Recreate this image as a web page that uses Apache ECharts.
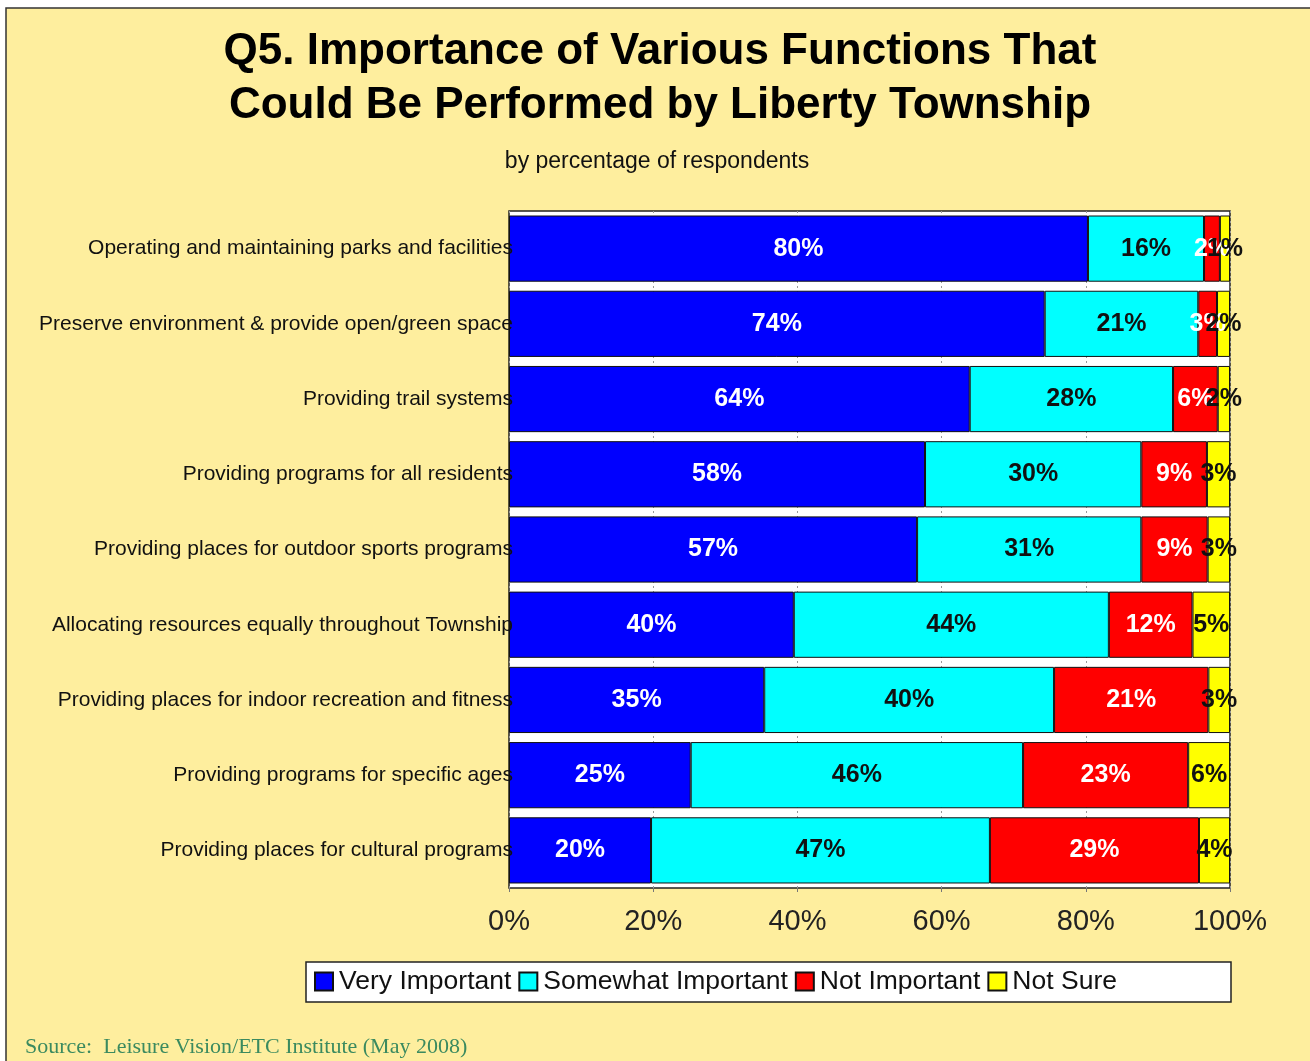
<!DOCTYPE html>
<html>
<head>
<meta charset="utf-8">
<script src="https://cdn.jsdelivr.net/npm/echarts@6/dist/echarts.min.js"></script>
<style>
html,body{margin:0;padding:0;background:#fff;}
#chart{width:1310px;height:1061px;}
</style>
</head>
<body>
<div id="chart"></div>
<script>
const categories = [
  'Operating and maintaining parks and facilities',
  'Preserve environment & provide open/green space',
  'Providing trail systems',
  'Providing programs for all residents',
  'Providing places for outdoor sports programs',
  'Allocating resources equally throughout Township',
  'Providing places for indoor recreation and fitness',
  'Providing programs for specific ages',
  'Providing places for cultural programs'
];
const veryImportant     = [80.3, 74.3, 63.9, 57.7, 56.6, 39.5, 35.4, 25.2, 19.7];
const somewhatImportant = [16.1, 21.3, 28.2, 30.0, 31.1, 43.7, 40.2, 46.1, 47.0];
const notImportant      = [2.2, 2.6, 6.2, 9.1, 9.2, 11.6, 21.4, 22.9, 29.0];
const notSure           = [1.4, 1.8, 1.7, 3.2, 3.1, 5.2, 3.0, 5.8, 4.3];
const seriesNames = ['Very Important', 'Somewhat Important', 'Not Important', 'Not Sure'];
const xTicks = [0, 20, 40, 60, 80, 100];

const FONT = 'Liberation Sans, Arial, sans-serif';
const colors = ['#0000FF', '#00FFFF', '#FF0000', '#FFFF00'];
const labelColors = ['#ffffff', '#111111', '#ffffff', '#111111'];
const dataSets = [veryImportant, somewhatImportant, notImportant, notSure];

const chart = echarts.init(document.getElementById('chart'), null, {renderer: 'canvas'});

const series = seriesNames.map((name, i) => ({
  name: name,
  type: 'bar',
  stack: 'total',
  barCategoryGap: '12%',
  data: dataSets[i],
  itemStyle: {color: colors[i], borderColor: '#111', borderWidth: 1},
  label: {
    show: true,
    position: 'inside',
    formatter: p => Math.round(p.value) + '%',
    color: labelColors[i],
    fontFamily: FONT,
    fontWeight: 'bold',
    fontSize: 25,
    textBorderWidth: 0
  },
  emphasis: {disabled: true}
}));

const option = {
  backgroundColor: '#ffffff',
  animation: false,
  graphic: [
    {type: 'rect', z: -100, shape: {x: 6, y: 8, width: 1310, height: 1060},
     style: {fill: '#FEEE9E', stroke: '#333', lineWidth: 1.5}},
    {type: 'rect', z: -50, shape: {x: 306, y: 962, width: 925, height: 40},
     style: {fill: '#ffffff', stroke: '#222', lineWidth: 1.5}},
    {type: 'text', z: 10, style: {text: 'Q5. Importance of Various Functions That', x: 660, y: 52,
      align: 'center', verticalAlign: 'middle', font: 'bold 44px ' + FONT, fill: '#000'}},
    {type: 'text', z: 10, style: {text: 'Could Be Performed by Liberty Township', x: 660, y: 106,
      align: 'center', verticalAlign: 'middle', font: 'bold 44px ' + FONT, fill: '#000'}},
    {type: 'text', z: 10, style: {text: 'by percentage of respondents', x: 657, y: 162,
      align: 'center', verticalAlign: 'middle', font: '23px ' + FONT, fill: '#111'}},
    {type: 'text', z: 10, style: {text: 'Source:  Leisure Vision/ETC Institute (May 2008)', x: 25, y: 1047,
      align: 'left', verticalAlign: 'middle', font: '22px Liberation Serif, Times New Roman, serif', fill: '#3b8a5f'}}
  ],
  legend: {
    data: seriesNames,
    left: 314,
    top: 968,
    padding: 0,
    itemGap: 7,
    itemWidth: 18,
    itemHeight: 18,
    icon: 'rect',
    selectedMode: false,
    textStyle: {fontFamily: FONT, fontSize: 26.5, color: '#111', padding: [0, 0, 0, 1]}
  },
  grid: {
    left: 509, right: 80, top: 211, bottom: 173,
    show: true, backgroundColor: '#ffffff', borderColor: '#222', borderWidth: 1.5,
    containLabel: false
  },
  xAxis: {
    type: 'value',
    min: xTicks[0],
    max: xTicks[xTicks.length - 1],
    interval: 20,
    axisLine: {show: false},
    axisTick: {show: true, length: 4, lineStyle: {color: '#777'}},
    splitLine: {show: true, lineStyle: {color: '#999', type: [2, 3], width: 1}},
    axisLabel: {formatter: '{value}%', fontFamily: FONT, fontSize: 29, color: '#222', margin: 19}
  },
  yAxis: {
    type: 'category',
    inverse: true,
    data: categories,
    z: 3,
    axisLine: {show: false},
    axisTick: {show: false},
    splitLine: {show: false},
    axisLabel: {fontFamily: FONT, fontSize: 21, color: '#111', margin: -4}
  },
  series: series
};
chart.setOption(option);
</script>
</body>
</html>
